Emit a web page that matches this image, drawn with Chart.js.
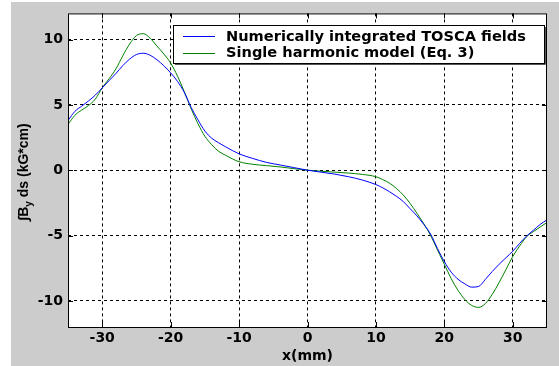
<!DOCTYPE html>
<html>
<head>
<meta charset="utf-8">
<script src="https://cdn.jsdelivr.net/npm/chart.js@4/dist/chart.umd.min.js"></script>
<style>
  html, body { margin: 0; padding: 0; background: #fff; }
  #wrap { width: 559px; height: 366px; }
</style>
</head>
<body>
<div id="wrap"><canvas id="field-chart" width="559" height="366"></canvas></div>
<script>
// values
const x_mm = [-35, -34, -33, -32, -31, -30, -29, -28, -27, -26, -25, -24, -23, -22, -21, -20,
    -19, -18, -17, -16, -15, -14, -13, -12, -10, -8, -6, -4, -2, 0, 2, 4, 6, 8, 10, 11, 12,
    13, 14, 15, 16, 17, 18, 19, 20, 21, 22, 23, 24, 25, 26, 27, 28, 29, 30, 31, 32, 33, 34, 35];
const tosca_vals = [3.8, 4.5, 4.9, 5.3, 5.75, 6.3, 6.85, 7.4, 8.0, 8.5, 8.85, 8.95, 8.8, 8.45, 8.0, 7.45,
    6.8, 5.95, 4.8, 3.85, 3.0, 2.45, 2.1, 1.8, 1.25, 0.9, 0.6, 0.4, 0.2, 0, -0.15, -0.3, -0.5, -0.75, -1.1, -1.35, -1.65,
    -2.0, -2.4, -2.95, -3.5, -4.15, -4.9, -6.0, -7.0, -7.8, -8.35, -8.7, -8.95, -8.9, -8.35, -7.75, -7.2, -6.7, -6.2, -5.6, -5.05, -4.6, -4.15, -3.8];
const model_vals = [3.5, 4.2, 4.6, 4.95, 5.45, 6.3, 7.0, 7.75, 8.75, 9.65, 10.3, 10.45, 10.1, 9.5, 8.9, 8.2,
    7.2, 6.0, 4.7, 3.55, 2.6, 1.95, 1.45, 1.15, 0.65, 0.45, 0.35, 0.25, 0.12, 0, -0.08, -0.15, -0.22, -0.32, -0.5, -0.72, -1.0,
    -1.4, -1.9, -2.55, -3.3, -4.1, -5.0, -6.1, -7.2, -8.3, -9.2, -9.9, -10.35, -10.5, -10.2, -9.5, -8.6, -7.6, -6.6, -5.8, -5.1, -4.7, -4.35, -4.0];
const series_labels = ['Numerically integrated TOSCA fields', 'Single harmonic model (Eq. 3)'];
const x_ticks = [-30, -20, -10, 0, 10, 20, 30];
const y_ticks = [-10, -5, 0, 5, 10];

const tick_font = { family: 'DejaVu Sans', size: 14, weight: 'bold' };

function to_points(vals) {
    return x_mm.map((x, i) => ({ x: x, y: vals[i] }));
}

// grey figure, white axes box, black frame
const backdrop = {
    id: 'backdrop',
    beforeDraw(chart) {
        const ctx = chart.ctx, a = chart.chartArea;
        ctx.save();
        ctx.fillStyle = '#ffffff';
        ctx.fillRect(0, 0, chart.width, chart.height);
        ctx.fillStyle = '#cccccc';
        ctx.fillRect(11, 2, chart.width - 11, chart.height - 2);
        ctx.fillStyle = '#ffffff';
        ctx.fillRect(a.left, a.top, a.right - a.left, a.bottom - a.top);
        ctx.restore();
    },
    afterDraw(chart) {
        const ctx = chart.ctx, a = chart.chartArea;
        const xs = chart.scales.x, ys = chart.scales.y;
        ctx.save();
        ctx.strokeStyle = '#000';
        ctx.lineWidth = 1;
        ctx.strokeRect(a.left + 0.5, a.top + 0.5, a.right - a.left - 1, a.bottom - a.top);

        // inward tick marks on all four sides
        ctx.beginPath();
        x_ticks.forEach(v => {
            const px = Math.round(xs.getPixelForValue(v)) + 0.5;
            ctx.moveTo(px, a.bottom); ctx.lineTo(px, a.bottom - 5);
            ctx.moveTo(px, a.top); ctx.lineTo(px, a.top + 5);
        });
        y_ticks.forEach(v => {
            const py = Math.round(ys.getPixelForValue(v)) + 0.5;
            ctx.moveTo(a.left, py); ctx.lineTo(a.left + 5, py);
            ctx.moveTo(a.right, py); ctx.lineTo(a.right - 5, py);
        });
        ctx.stroke();

        // legend box
        const lx = 173, ly = 25, lw = 371, lh = 38;
        ctx.fillStyle = '#ffffff';
        ctx.fillRect(lx, ly, lw, lh);
        ctx.strokeStyle = '#000';
        ctx.strokeRect(lx + 0.5, ly + 0.5, lw, lh);
        ctx.strokeStyle = '#555';
        ctx.beginPath();
        ctx.moveTo(lx + lw + 1.5, ly + 2);
        ctx.lineTo(lx + lw + 1.5, ly + lh + 1.5);
        ctx.lineTo(lx + 2, ly + lh + 1.5);
        ctx.stroke();
        ctx.font = 'bold 14.6px "DejaVu Sans"';
        ctx.textBaseline = 'middle';
        ctx.fillStyle = '#000';
        chart.data.datasets.forEach((ds, i) => {
            const yy = ly + 11 + i * 16.5;
            ctx.strokeStyle = ds.borderColor;
            ctx.lineWidth = 1;
            ctx.beginPath();
            ctx.moveTo(183, Math.round(yy) + 0.5);
            ctx.lineTo(215, Math.round(yy) + 0.5);
            ctx.stroke();
            ctx.fillText(ds.label, 226, yy + 1);
        });

        // y title with subscript
        ctx.translate(23, 172);
        ctx.rotate(-Math.PI / 2);
        ctx.fillStyle = '#000';
        ctx.textBaseline = 'alphabetic';
        const big = 'bold 14px "Liberation Sans"', small = 'bold 10px "Liberation Sans"';
        const p1 = '\u222BB', p2 = 'y', p3 = ' ds (kG*cm)';
        ctx.font = big;
        const w1 = ctx.measureText(p1).width, w3 = ctx.measureText(p3).width;
        ctx.font = small;
        const w2 = ctx.measureText(p2).width;
        let sx = -(w1 + w2 + w3) / 2;
        ctx.font = big;
        ctx.fillText(p1, sx, 5);
        ctx.font = small;
        ctx.fillText(p2, sx + w1, 9);
        ctx.font = big;
        ctx.fillText(p3, sx + w1 + w2, 5);
        ctx.restore();
    }
};

function keep_ticks(list) {
    return function(scale) {
        scale.ticks = list.map(v => ({ value: v }));
    };
}

let field_chart;

window.addEventListener('load', e => {
    const ctx = document.getElementById('field-chart').getContext('2d');
    field_chart = new Chart(ctx, {
        type: 'line',
        data: {
            datasets: [{
                label: series_labels[0],
                data: to_points(tosca_vals),
                borderColor: '#0000ff',
                borderWidth: 1,
                pointRadius: 0,
                cubicInterpolationMode: 'monotone',
                fill: false
            }, {
                label: series_labels[1],
                data: to_points(model_vals),
                borderColor: '#008000',
                borderWidth: 1,
                pointRadius: 0,
                cubicInterpolationMode: 'monotone',
                fill: false
            }]
        },
        options: {
            responsive: false,
            animation: false,
            events: [],
            layout: { padding: { left: 0, top: 12, right: 12, bottom: 0 } },
            plugins: {
                legend: { display: false },
                tooltip: { enabled: false }
            },
            scales: {
                x: {
                    type: 'linear',
                    min: -35,
                    max: 35,
                    afterBuildTicks: keep_ticks(x_ticks),
                    afterFit(scale) { scale.height = 39; },
                    grid: { color: '#000', lineWidth: 1, drawTicks: false },
                    border: { display: false, dash: [3, 3] },
                    ticks: { color: '#000', font: tick_font, padding: 3, maxRotation: 0 },
                    title: {
                        display: true, text: 'x(mm)', color: '#000',
                        font: tick_font, padding: { top: 0, bottom: 1 }
                    }
                },
                y: {
                    type: 'linear',
                    min: -12,
                    max: 12,
                    afterBuildTicks: keep_ticks(y_ticks),
                    afterFit(scale) { scale.width = 68; },
                    grid: { color: '#000', lineWidth: 1, drawTicks: false },
                    border: { display: false, dash: [3, 3] },
                    ticks: { color: '#000', font: tick_font, padding: 5 }
                }
            }
        },
        plugins: [backdrop]
    });
});
</script>
</body>
</html>
